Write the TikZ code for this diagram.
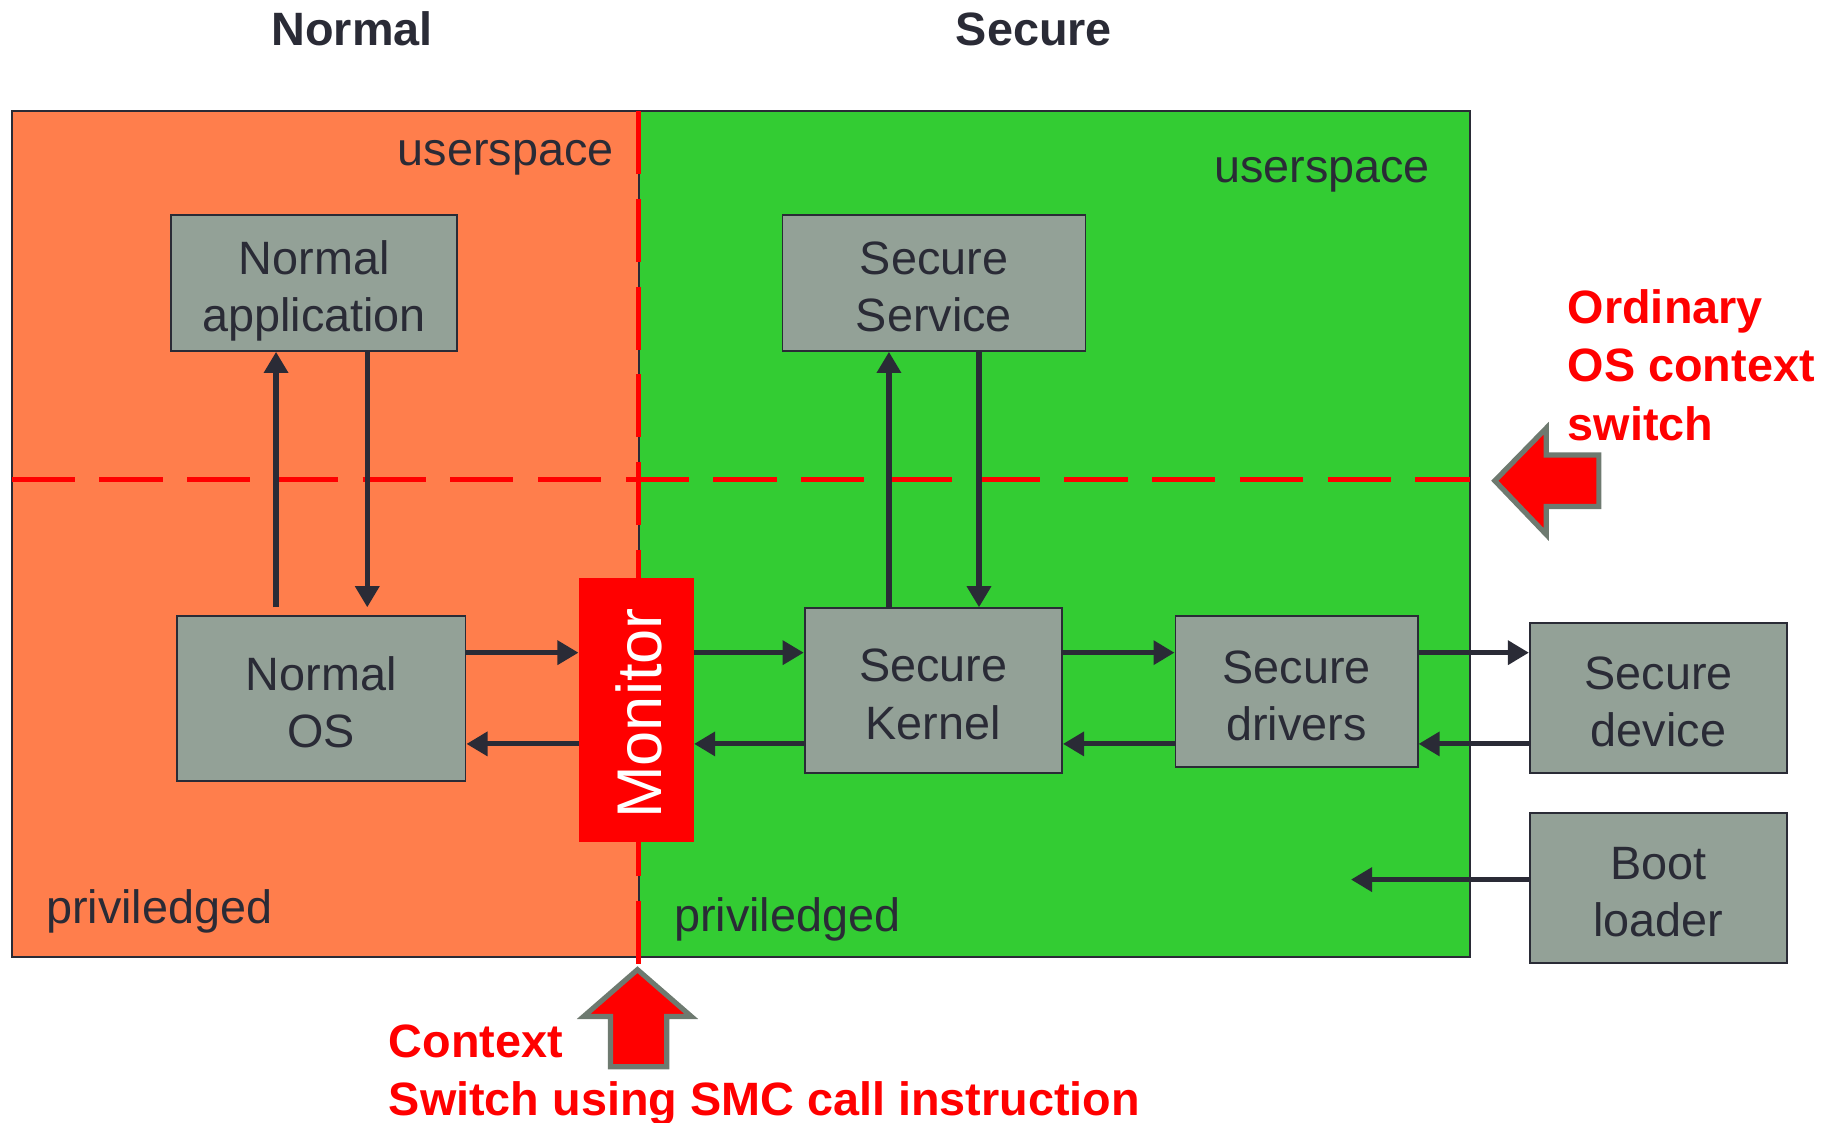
\documentclass[tikz,border=0pt]{standalone}
\usepackage{fontspec}
\setmainfont{Liberation Sans}
\usetikzlibrary{arrows.meta}
\definecolor{normalbg}{RGB}{255,126,76}
\definecolor{securebg}{RGB}{51,204,51}
\definecolor{boxgray}{RGB}{147,161,151}
\definecolor{ink}{RGB}{42,43,54}
\definecolor{outline}{RGB}{110,122,112}
\begin{document}
\begin{tikzpicture}[x=0.5pt,y=-0.5pt,
    box/.style={draw=ink,line width=0.8pt,fill=boxgray,text=ink,align=center,inner sep=0pt,font=\fontsize{20}{24.5}\selectfont,
      execute at begin node={\rule{0pt}{46pt}},execute at end node={\rule[-4.5pt]{0pt}{4.5pt}}},
    flow/.style={draw=ink,line width=2.2pt,-{Triangle[length=9pt,width=10pt]}},
    split/.style={red,line width=2.3pt,dash pattern=on 27pt off 10.5pt},
    region/.style={text=ink,inner sep=0pt,font=\fontsize{20}{24}\selectfont},
    note/.style={text=red,inner sep=0pt,align=left,font=\bfseries\fontsize{20}{25}\selectfont},
    bigarrow/.style={fill=red,draw=outline,line width=2.2pt,line join=miter}]
    \useasboundingbox (0,0) rectangle (1568,960);
    % the two worlds
    \fill[normalbg] (10,95) rectangle (546,818);
    \fill[securebg] (546,95) rectangle (1257,818);
    \draw[ink,line width=0.8pt] (10,95) rectangle (1257,818);
    \draw[ink,line width=0.8pt] (546,95) -- (546,818);
    \node[text=ink,font=\bfseries\fontsize{20}{24}\selectfont] (tnormal) at (301,25) {Normal};
    \node[text=ink,font=\bfseries\fontsize{20}{24}\selectfont] (tsecure) at (884,25) {Secure};
    % boundaries
    \draw[split] (10,410) -- (1257,410);
    \draw[split] (546,95) -- (546,826);
    \node[region,anchor=east] (usrn) at (525,135) {userspace};
    \node[region,anchor=east] (usrs) at (1223,149) {userspace};
    \node[region,anchor=west] (privn) at (39,779) {priviledged};
    \node[region,anchor=west] (privs) at (576,786) {priviledged};
    % components
    \node[box,minimum width=122.5pt,minimum height=58pt] (app) at (268.5,242) {Normal\\application};
    \node[box,minimum width=129.5pt,minimum height=58pt] (ss) at (798.5,242) {Secure\\Service};
    \node[box,minimum width=123.5pt,minimum height=70.5pt] (nos) at (274.5,597.5) {Normal\\OS};
    \node[fill=red,inner sep=0pt,minimum width=49pt,minimum height=113pt] (mon) at (544,607) {};
    \node[rotate=90,text=white,font=\fontsize{27}{27}\selectfont] (montxt) at (546,610) {Monitor};
    \node[box,minimum width=110pt,minimum height=70.5pt] (sk) at (798,590.5) {Secure\\Kernel};
    \node[box,minimum width=103.5pt,minimum height=64.5pt] (sd) at (1108.5,591.5) {Secure\\drivers};
    \node[box,minimum width=110pt,minimum height=64pt] (dev) at (1418,597) {Secure\\device};
    \node[box,minimum width=110pt,minimum height=64pt] (boot) at (1418,759) {Boot\\loader};
    % connectors
    \coordinate (hi) at (0,558);
    \coordinate (lo) at (0,636);
    \coordinate (nup) at (236,0);
    \coordinate (ndown) at (314,0);
    \coordinate (sup) at (760,0);
    \coordinate (sdown) at (837,0);
    \coordinate (bootend) at (1155,752);
    \draw[flow,shorten <=3.5pt] (nos.north -| nup) -- (app.south -| nup);
    \draw[flow,shorten >=3.5pt] (app.south -| ndown) -- (nos.north -| ndown);
    \draw[flow] (sk.north -| sup) -- (ss.south -| sup);
    \draw[flow] (ss.south -| sdown) -- (sk.north -| sdown);
    \draw[flow] (nos.east |- hi) -- (mon.west |- hi);
    \draw[flow] (mon.west |- lo) -- (nos.east |- lo);
    \draw[flow] (mon.east |- hi) -- (sk.west |- hi);
    \draw[flow] (sk.west |- lo) -- (mon.east |- lo);
    \draw[flow] (sk.east |- hi) -- (sd.west |- hi);
    \draw[flow] (sd.west |- lo) -- (sk.east |- lo);
    \draw[flow] (sd.east |- hi) -- (dev.west |- hi);
    \draw[flow] (dev.west |- lo) -- (sd.east |- lo);
    \draw[flow] (boot.west |- bootend) -- (bootend);
    % context switches
    \draw[bigarrow] (1278,411) -- (1322,366) -- (1322,389) -- (1367,389) -- (1367,433) -- (1322,433) -- (1322,457) -- cycle;
    \node[note,anchor=west] (ctxos) at (1340,312) {Ordinary\\OS context\\switch};
    \draw[bigarrow] (545,829) -- (591,869) -- (570,869) -- (570,912) -- (522,912) -- (522,869) -- (499,869) -- cycle;
    \node[note,anchor=west] (ctxsmc) at (332,919) {Context\\Switch using SMC call instruction};
\end{tikzpicture}
\end{document}
